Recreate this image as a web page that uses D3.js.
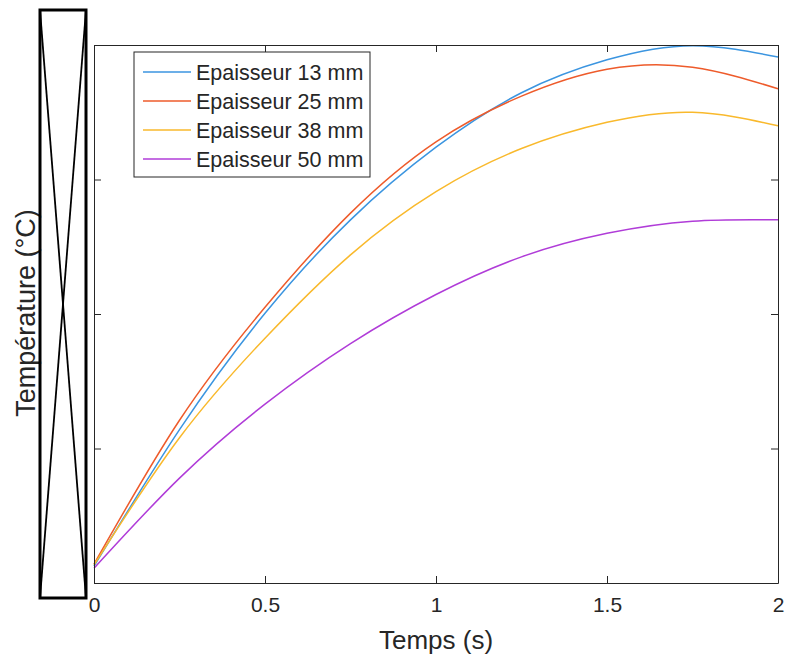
<!DOCTYPE html>
<html>
<head>
<meta charset="utf-8">
<script src="https://cdn.jsdelivr.net/npm/d3@7"></script>
<style>
  body { margin: 0; background: #fff; }
  svg text { font-family: "Liberation Sans", Arial, sans-serif; fill: #262626; }
</style>
</head>
<body>
<div id="chart"></div>
<script>
// data (temperature values, y labels are hidden in the source)
var temps = [0, 0.25, 0.5, 0.75, 1, 1.25, 1.5, 1.75, 2];
var ep13 = [22.5, 42.8, 60.1, 74.0, 84.8, 92.9, 97.8, 99.9, 98.2];
var ep25 = [22.8, 44.2, 61.0, 75.0, 85.6, 92.4, 96.4, 96.7, 93.5];
var ep38 = [22.7, 41.6, 56.4, 68.8, 78.2, 84.6, 88.5, 90.0, 88.0];
var ep50 = [22.2, 35.6, 46.6, 55.6, 62.9, 68.5, 72.0, 73.8, 74.0];
var seriesNames = ["Epaisseur 13 mm", "Epaisseur 25 mm", "Epaisseur 38 mm", "Epaisseur 50 mm"];
var seriesColors = ["#3b95e0", "#ee5b2b", "#f9b92c", "#b03cd8"];
var xTicks = [0, 0.5, 1, 1.5, 2];
var yTicks = [20, 40, 60, 80, 100];

function init() {
    var w = 787, h = 659;
    var left = 94, right = 778, top = 45, bottom = 583;

    var svg = d3.select("#chart").append("svg")
        .attr("width", w)
        .attr("height", h);

    var x = d3.scaleLinear().domain([0, 2]).range([left, right]);
    var y = d3.scaleLinear().domain([20, 100]).range([bottom, top]);

    var allSeries = [ep13, ep25, ep38, ep50];

    // curves
    var line = d3.line()
        .x(function(d, i) { return x(temps[i]); })
        .y(function(d) { return y(d); })
        .curve(d3.curveNatural);

    svg.selectAll("path.serie")
        .data(allSeries)
        .enter()
        .append("path")
        .attr("class", "serie")
        .attr("d", line)
        .attr("fill", "none")
        .attr("stroke", function(d, i) { return seriesColors[i]; })
        .attr("stroke-width", 1.5);

    // axes (matlab box, ticks inside)
    svg.append("g")
        .attr("transform", "translate(0," + bottom + ")")
        .call(d3.axisBottom(x).tickValues(xTicks).tickSizeInner(-7).tickSizeOuter(0)
            .tickPadding(14).tickFormat(d3.format("")))
        .call(function(g) {
            g.selectAll("text").attr("font-size", 21).attr("fill", "#262626");
        });
    svg.append("g")
        .attr("transform", "translate(0," + top + ")")
        .call(d3.axisTop(x).tickValues(xTicks).tickSizeInner(-7).tickSizeOuter(0).tickFormat(""));
    svg.append("g")
        .attr("transform", "translate(" + left + ",0)")
        .call(d3.axisLeft(y).tickValues(yTicks).tickSizeInner(-7).tickSizeOuter(0).tickFormat(""));
    svg.append("g")
        .attr("transform", "translate(" + right + ",0)")
        .call(d3.axisRight(y).tickValues(yTicks).tickSizeInner(-7).tickSizeOuter(0).tickFormat(""));

    svg.selectAll(".domain, .tick line").attr("stroke", "#262626");
    svg.selectAll(".tick text").attr("font-family", "Liberation Sans, Arial, sans-serif");

    // labels
    svg.append("text")
        .attr("x", (left + right) / 2)
        .attr("y", 649)
        .attr("text-anchor", "middle")
        .attr("font-size", 26)
        .text("Temps (s)");

    svg.append("text")
        .attr("transform", "translate(35," + 313 + ") rotate(-90)")
        .attr("text-anchor", "middle")
        .attr("font-size", 27)
        .text("Température (°C)");

    // crossed box hiding the y tick labels
    var bx0 = 40, bx1 = 86, by0 = 10, by1 = 598;
    var cross = svg.append("g").attr("stroke", "black").attr("fill", "none");
    cross.append("rect")
        .attr("x", bx0).attr("y", by0)
        .attr("width", bx1 - bx0).attr("height", by1 - by0)
        .attr("stroke-width", 3);
    cross.append("line").attr("x1", bx0).attr("y1", by0).attr("x2", bx1).attr("y2", by1).attr("stroke-width", 1.8);
    cross.append("line").attr("x1", bx1).attr("y1", by0).attr("x2", bx0).attr("y2", by1).attr("stroke-width", 1.8);

    // legend
    var lg = svg.append("g");
    lg.append("rect")
        .attr("x", 134).attr("y", 52)
        .attr("width", 236).attr("height", 125)
        .attr("fill", "white")
        .attr("stroke", "#262626")
        .attr("stroke-width", 1);

    var items = lg.selectAll("g.item")
        .data(seriesNames)
        .enter()
        .append("g")
        .attr("class", "item")
        .attr("transform", function(d, i) { return "translate(0," + (72 + i * 29) + ")"; });

    items.append("line")
        .attr("x1", 143).attr("x2", 191)
        .attr("stroke", function(d, i) { return seriesColors[i]; })
        .attr("stroke-width", 1.5);

    items.append("text")
        .attr("x", 196)
        .attr("y", 7.5)
        .attr("font-size", 21.5)
        .text(function(d) { return d; });
}

window.onload = init;
</script>
</body>
</html>
